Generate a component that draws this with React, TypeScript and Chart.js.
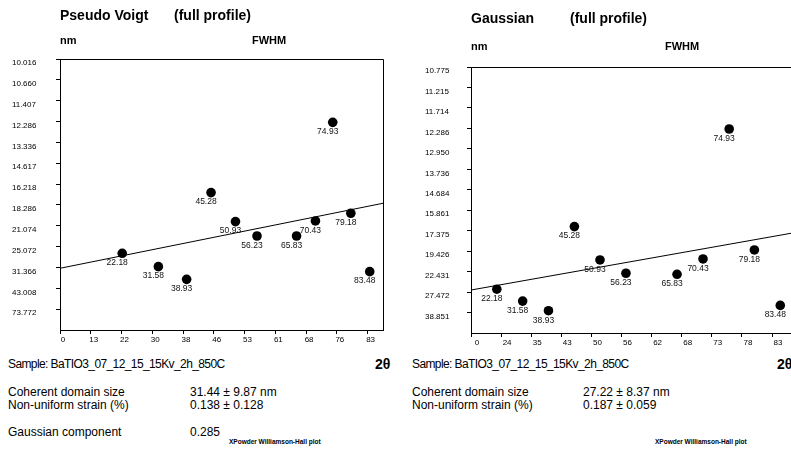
import React, { useEffect, useRef } from "react";
import { Chart, registerables } from "chart.js";

Chart.register(...registerables);

const FONT = "'Liberation Sans', Arial, sans-serif";

// Diffraction peaks (2θ, degrees) shared by both Williamson-Hall panels
const twoTheta = [22.18, 31.58, 38.93, 45.28, 50.93, 56.23, 65.83, 70.43, 74.93, 79.18, 83.48];

// Pseudo-Voigt panel: x ticks are 2θ labels at evenly spaced positions
const pvXTickDeg = [0, 13, 22, 30, 38, 46, 53, 61, 68, 76, 83];
// y ticks: crystallite size (nm) from top (largest FWHM) down
const pvYTickLabels = [
  "10.016", "10.660", "11.407", "12.286", "13.336", "14.617", "16.218",
  "18.286", "21.074", "25.072", "31.366", "43.008", "73.772",
];
// FWHM·cosθ in axis units (0 = bottom axis, 13 = top)
const pvY = [3.68, 3.04, 2.43, 6.59, 5.2, 4.51, 4.51, 5.23, 9.96, 5.6, 2.8];
// fitted line at x = 0 and at the right edge
const pvFit = [2.96, 6.08];
const pvXMax = 10.5;

// Gaussian panel: x axis is sin²θ
const gXTickDeg = [0, 24, 35, 43, 50, 56, 62, 68, 73, 78, 83];
const gXStep = 0.04314;
const gYTickLabels = [
  "10.775", "11.215", "11.714", "12.286", "12.950", "13.736", "14.684",
  "15.861", "17.375", "19.426", "22.431", "27.472", "38.851",
];
const gY = [2.14, 1.56, 1.09, 5.2, 3.57, 2.92, 2.87, 3.62, 9.97, 4.06, 1.35];
const gFit = [2.1, 4.9];
const gXMax = 0.4629;

// piecewise position of a 2θ value along the Pseudo-Voigt tick scale
function pvPos(deg: number): number {
  const t = pvXTickDeg;
  for (let i = 1; i < t.length; i++) {
    if (deg <= t[i] || i === t.length - 1) {
      return i - 1 + (deg - t[i - 1]) / (t[i] - t[i - 1]);
    }
  }
  return 0;
}

function sin2(deg: number): number {
  const s = Math.sin(((deg / 2) * Math.PI) / 180);
  return s * s;
}

type PanelProps = {
  left: number;
  width: number;
  height: number;
  padding: { left: number; top: number; right: number; bottom: number };
  yAxisWidth: number;
  xMax: number;
  xTicks: number[];
  xTickLabels: string[];
  xLabelOffset: number;
  yTickLabels: string[];
  xs: number[];
  ys: number[];
  fit: number[];
};

const framePlugin = {
  id: "frame",
  afterDraw(chart: any) {
    const { ctx, chartArea: a } = chart;
    const l = Math.round(a.left) + 0.5;
    const t = Math.round(a.top) + 0.5;
    const r = Math.round(a.right) + 0.5;
    const b = Math.round(a.bottom) + 0.5;
    ctx.save();
    ctx.strokeStyle = "#000";
    ctx.lineWidth = 1;
    ctx.beginPath();
    ctx.moveTo(l, t);
    ctx.lineTo(r, t);
    ctx.lineTo(r, b);
    ctx.stroke();
    ctx.restore();
  },
};

function Panel(p: PanelProps) {
  const ref = useRef<HTMLCanvasElement>(null);

  useEffect(() => {
    if (!ref.current) return;
    const peakLabelPlugin = {
      id: "peakLabels",
      afterDatasetsDraw(chart: any) {
        const meta = chart.getDatasetMeta(1);
        const ctx = chart.ctx;
        ctx.save();
        ctx.font = `8.5px ${FONT}`;
        ctx.fillStyle = "#111";
        ctx.textAlign = "center";
        ctx.textBaseline = "middle";
        meta.data.forEach((pt: any, i: number) => {
          ctx.fillText(twoTheta[i].toFixed(2), pt.x - 5, pt.y + 9.5);
        });
        ctx.restore();
      },
    };

    const chart = new Chart(ref.current, {
      type: "scatter",
      data: {
        datasets: [
          {
            type: "line",
            data: [
              { x: 0, y: p.fit[0] },
              { x: p.xMax, y: p.fit[1] },
            ],
            borderColor: "#000",
            borderWidth: 1,
            pointRadius: 0,
            order: 2,
          } as any,
          {
            data: p.xs.map((x, i) => ({ x, y: p.ys[i] })),
            backgroundColor: "#000",
            borderColor: "#000",
            borderWidth: 0,
            pointRadius: 4.8,
            order: 1,
          },
        ],
      },
      options: {
        animation: false,
        responsive: false,
        events: [],
        layout: { padding: p.padding },
        plugins: { legend: { display: false }, tooltip: { enabled: false } },
        scales: {
          x: {
            type: "linear",
            min: 0,
            max: p.xMax,
            afterBuildTicks: (s: any) => {
              s.ticks = p.xTicks.map((v) => ({ value: v }));
            },
            afterFit: (s: any) => {
              s.height = 18;
            },
            ticks: {
              autoSkip: false,
              maxRotation: 0,
              padding: 1,
              labelOffset: p.xLabelOffset,
              color: "#000",
              font: { family: FONT, size: 8 },
              callback: (_v: any, i: number) => p.xTickLabels[i],
            },
            grid: {
              display: true,
              drawOnChartArea: false,
              drawTicks: true,
              tickLength: 4,
              color: "#000",
              lineWidth: 1,
            },
            border: { display: true, color: "#000", width: 1 },
          },
          y: {
            type: "linear",
            min: 0,
            max: 13,
            afterBuildTicks: (s: any) => {
              const t = [];
              for (let v = 1; v <= 13; v++) t.push({ value: v });
              s.ticks = t;
            },
            afterFit: (s: any) => {
              s.width = p.yAxisWidth;
            },
            ticks: {
              autoSkip: false,
              crossAlign: "far",
              padding: 2,
              labelOffset: 4,
              color: "#000",
              font: { family: FONT, size: 8 },
              callback: (v: any) => p.yTickLabels[13 - Math.round(v)],
            },
            grid: {
              display: true,
              drawOnChartArea: false,
              drawTicks: true,
              tickLength: 4,
              color: "#000",
              lineWidth: 1,
            },
            border: { display: true, color: "#000", width: 1 },
          },
        },
      } as any,
      plugins: [framePlugin, peakLabelPlugin],
    });
    return () => chart.destroy();
  }, []);

  return (
    <canvas
      ref={ref}
      width={p.width}
      height={p.height}
      style={{
        position: "absolute",
        left: p.left,
        top: 0,
        width: p.width,
        height: p.height,
      }}
    />
  );
}

function Txt(props: {
  x: number;
  cy: number;
  size: number;
  bold?: boolean;
  spacing?: number;
  children: React.ReactNode;
}) {
  return (
    <div
      style={{
        position: "absolute",
        left: props.x,
        top: props.cy - props.size * 0.5,
        fontSize: props.size,
        lineHeight: 1,
        fontWeight: props.bold ? "bold" : "normal",
        letterSpacing: props.spacing ?? 0,
        whiteSpace: "nowrap",
        color: "#000",
        zIndex: 2,
      }}
    >
      {props.children}
    </div>
  );
}

export default function App() {
  const pvTicks = pvXTickDeg.map((_, i) => i);
  const gTicks = gXTickDeg.map((_, i) => i * gXStep);
  return (
    <div
      style={{
        position: "fixed",
        left: 0,
        top: 0,
        width: 791,
        height: 451,
        overflow: "hidden",
        background: "#fff",
        fontFamily: FONT,
      }}
    >
      <Panel
        left={0}
        width={400}
        height={352}
        padding={{ left: 12, top: 59, right: 17, bottom: 4 }}
        yAxisWidth={48}
        xMax={pvXMax}
        xTicks={pvTicks}
        xTickLabels={pvXTickDeg.map(String)}
        xLabelOffset={3}
        yTickLabels={pvYTickLabels}
        xs={twoTheta.map(pvPos)}
        ys={pvY}
        fit={pvFit}
      />
      <Panel
        left={400}
        width={420}
        height={352}
        padding={{ left: 25, top: 67, right: 26, bottom: 1 }}
        yAxisWidth={46}
        xMax={gXMax}
        xTicks={gTicks}
        xTickLabels={gXTickDeg.map(String)}
        xLabelOffset={6}
        yTickLabels={gYTickLabels}
        xs={twoTheta.map(sin2)}
        ys={gY}
        fit={gFit}
      />

      <Txt x={60} cy={15} size={14} bold>Pseudo Voigt</Txt>
      <Txt x={174} cy={15} size={14} bold>(full profile)</Txt>
      <Txt x={60} cy={40} size={11} bold>nm</Txt>
      <Txt x={252} cy={40} size={11} bold>FWHM</Txt>

      <Txt x={471} cy={18} size={14} bold>Gaussian</Txt>
      <Txt x={570} cy={18} size={14} bold>(full profile)</Txt>
      <Txt x={471} cy={46} size={11} bold>nm</Txt>
      <Txt x={665} cy={46} size={11} bold>FWHM</Txt>

      <Txt x={8} cy={364} size={12} spacing={-0.6}>Sample: BaTIO3_07_12_15_15Kv_2h_850C</Txt>
      <Txt x={375} cy={364} size={14} bold>2θ</Txt>
      <Txt x={8} cy={392} size={12}>Coherent domain size</Txt>
      <Txt x={190} cy={392} size={12}>31.44 ± 9.87 nm</Txt>
      <Txt x={8} cy={405} size={12}>Non-uniform strain (%)</Txt>
      <Txt x={190} cy={405} size={12}>0.138 ± 0.128</Txt>
      <Txt x={8} cy={432} size={12}>Gaussian component</Txt>
      <Txt x={190} cy={432} size={12}>0.285</Txt>
      <Txt x={229} cy={442} size={6.5} bold>XPowder Williamson-Hall plot</Txt>

      <Txt x={412} cy={364} size={12} spacing={-0.6}>Sample: BaTIO3_07_12_15_15Kv_2h_850C</Txt>
      <Txt x={777} cy={364} size={14} bold>2θ</Txt>
      <Txt x={412} cy={392} size={12}>Coherent domain size</Txt>
      <Txt x={583} cy={392} size={12}>27.22 ± 8.37 nm</Txt>
      <Txt x={412} cy={405} size={12}>Non-uniform strain (%)</Txt>
      <Txt x={583} cy={405} size={12}>0.187 ± 0.059</Txt>
      <Txt x={655} cy={442} size={6.5} bold>XPowder Williamson-Hall plot</Txt>
    </div>
  );
}
